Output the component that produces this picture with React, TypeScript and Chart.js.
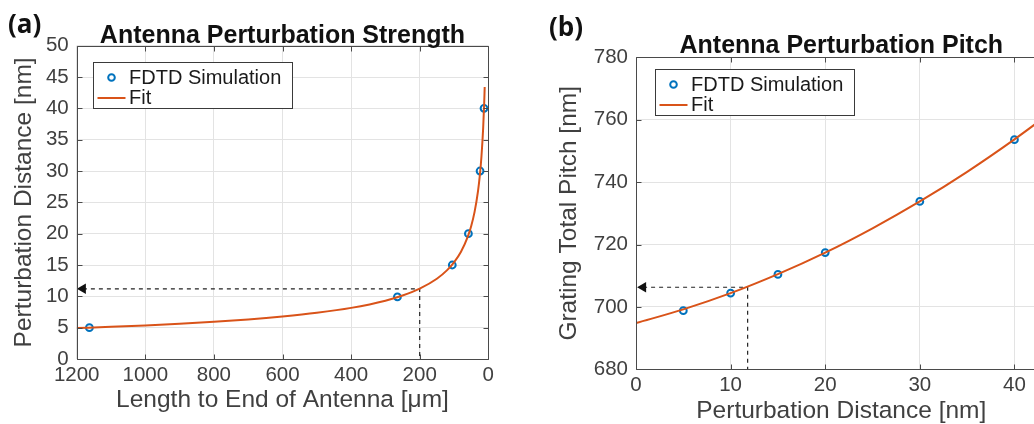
import React, { useEffect, useRef } from 'react';
import { Chart, registerables } from 'chart.js';

Chart.register(...registerables);

// ---------- Panel (a): Antenna Perturbation Strength ----------
const aSimX = [1163, 265, 105, 58, 24, 12.5];
const aSimY = [5, 9.9, 15, 20, 30, 40];
const aFitX = [1200, 1100, 1000, 900, 800, 700, 600, 500, 400, 300, 250, 200, 150, 120, 100, 80, 60, 50, 40, 30, 25, 20, 15, 12, 10.5];
const aFitY = [4.93, 5.13, 5.36, 5.62, 5.94, 6.31, 6.78, 7.37, 8.16, 9.31, 10.13, 11.22, 12.8, 14.18, 15.42, 17.08, 19.49, 21.19, 23.48, 26.8, 29.13, 32.28, 36.83, 40.81, 43.4];
const aGuideX = [1182, 200, 200];
const aGuideY = [11.2, 11.2, 0];
const aXRange = [0, 1200, 200]; // min, max, step
const aYRange = [0, 50, 5];

// ---------- Panel (b): Antenna Perturbation Pitch ----------
const bSimX = [5, 10, 15, 20, 30, 40];
const bSimY = [698.8, 704.4, 710.4, 717.4, 733.8, 753.6];
const bFitX = [0, 5, 10, 15, 20, 25, 30, 35, 40, 45];
const bFitY = [694.8, 699.2, 704.4, 710.5, 717.4, 725.2, 733.8, 743.3, 753.7, 764.9];
const bGuideX = [0.75, 11.8, 11.8];
const bGuideY = [706.3, 706.3, 680];
const bXRange = [0, 43.4, 10];
const bYRange = [680, 780, 20];

const seriesNames = ['FDTD Simulation', 'Fit'];

const BLUE = '#0072BD';
const ORANGE = '#D95319';
const AXIS = '#4a4a4a';
const GRID = '#e3e3e3';
const TEXT = '#404040';
const FONT = '"Liberation Sans", Arial, Helvetica, sans-serif';

const zip = (xs: number[], ys: number[]) => xs.map((x, i) => ({ x, y: ys[i] }));

const decorPlugin = {
  id: 'decor',
  afterDraw(chart: any, _args: any, o: any) {
    const { ctx, chartArea: a, scales } = chart;
    const xs = scales.x;
    const ys = scales.y;
    const L = Math.round(a.left) + 0.5;
    const T = Math.round(a.top) + 0.5;
    const R = Math.round(a.right) + 0.5;
    const B = Math.round(a.bottom) + 0.5;
    ctx.save();
    ctx.strokeStyle = AXIS;
    ctx.lineWidth = 1;
    ctx.beginPath();
    ctx.rect(L, T, R - L, B - T);
    const TL = 5;
    xs.ticks.forEach((t: any) => {
      const p = Math.round(xs.getPixelForValue(t.value)) + 0.5;
      ctx.moveTo(p, B);
      ctx.lineTo(p, B - TL);
      ctx.moveTo(p, T);
      ctx.lineTo(p, T + TL);
    });
    ys.ticks.forEach((t: any) => {
      const p = Math.round(ys.getPixelForValue(t.value)) + 0.5;
      ctx.moveTo(L, p);
      ctx.lineTo(L + TL, p);
      ctx.moveTo(R, p);
      ctx.lineTo(R - TL, p);
    });
    ctx.stroke();

    // title
    ctx.font = `bold 25px ${FONT}`;
    ctx.fillStyle = '#111';
    ctx.textAlign = 'center';
    ctx.textBaseline = 'alphabetic';
    ctx.fillText(o.title, (a.left + a.right) / 2, o.titleY);

    // legend
    const lx = Math.round(a.left + o.legendDx) + 0.5;
    const ly = Math.round(a.top + o.legendDy) + 0.5;
    const lw = 199;
    const lh = 46;
    ctx.fillStyle = '#fff';
    ctx.fillRect(lx, ly, lw, lh);
    ctx.strokeStyle = '#3a3a3a';
    ctx.strokeRect(lx, ly, lw, lh);
    const r1 = ly + 15;
    const r2 = ly + 35.5;
    ctx.strokeStyle = BLUE;
    ctx.lineWidth = 2;
    ctx.beginPath();
    ctx.arc(lx + 18, r1, 3.3, 0, Math.PI * 2);
    ctx.stroke();
    ctx.strokeStyle = ORANGE;
    ctx.beginPath();
    ctx.moveTo(lx + 4, r2);
    ctx.lineTo(lx + 32, r2);
    ctx.stroke();
    ctx.fillStyle = '#1a1a1a';
    ctx.font = `20px ${FONT}`;
    ctx.textAlign = 'left';
    ctx.textBaseline = 'middle';
    ctx.fillText(seriesNames[0], lx + 35.5, r1 + 0.5);
    ctx.fillText(seriesNames[1], lx + 35.5, r2 + 0.5);
    ctx.restore();
  },
};

type PanelProps = {
  left: number;
  width: number;
  simX: number[];
  simY: number[];
  fitX: number[];
  fitY: number[];
  guideX: number[];
  guideY: number[];
  xRange: number[];
  yRange: number[];
  reverse: boolean;
  padTop: number;
  padRight: number;
  yWidth: number;
  xHeight: number;
  xLabel: string;
  yLabel: string;
  xTitlePad: number;
  yTitlePad: number;
  title: string;
  titleY: number;
  legendDx: number;
  legendDy: number;
};

function Panel(p: PanelProps) {
  const ref = useRef<HTMLCanvasElement>(null);
  useEffect(() => {
    if (!ref.current) return;
    const chart = new Chart(ref.current, {
      type: 'scatter',
      data: {
        datasets: [
          {
            label: seriesNames[1],
            data: zip(p.fitX, p.fitY),
            showLine: true,
            borderColor: ORANGE,
            borderWidth: 2,
            pointRadius: 0,
            cubicInterpolationMode: 'monotone',
            order: 0,
          } as any,
          {
            label: seriesNames[0],
            data: zip(p.simX, p.simY),
            showLine: false,
            borderColor: BLUE,
            backgroundColor: 'rgba(0,0,0,0)',
            borderWidth: 2,
            pointRadius: 3.4,
            order: 1,
          },
          {
            label: 'guide',
            data: zip(p.guideX, p.guideY),
            showLine: true,
            borderColor: '#222',
            backgroundColor: '#111',
            borderWidth: 1.2,
            borderDash: [4, 4],
            pointStyle: 'triangle',
            pointRotation: -90,
            pointRadius: [6, 0, 0],
            pointBorderWidth: 0,
            pointBackgroundColor: '#111',
            order: 2,
          } as any,
        ],
      },
      options: {
        animation: false,
        responsive: false,
        events: [],
        layout: { padding: { top: p.padTop, right: p.padRight, left: 0, bottom: 0 } },
        plugins: {
          legend: { display: false },
          tooltip: { enabled: false },
          decor: { title: p.title, titleY: p.titleY, legendDx: p.legendDx, legendDy: p.legendDy },
        } as any,
        scales: {
          x: {
            type: 'linear',
            min: p.xRange[0],
            max: p.xRange[1],
            reverse: p.reverse,
            afterFit: (s: any) => {
              s.height = p.xHeight;
            },
            ticks: {
              stepSize: p.xRange[2],
              includeBounds: false,
              autoSkip: false,
              maxRotation: 0,
              padding: 4,
              color: TEXT,
              font: { family: FONT, size: 20.5 },
              callback: (v: any) => String(v),
            },
            grid: { color: GRID, drawTicks: false },
            border: { display: false },
            title: {
              display: true,
              text: p.xLabel,
              color: TEXT,
              font: { family: FONT, size: 24.5, lineHeight: 1 },
              padding: { top: 0, bottom: p.xTitlePad },
            },
          },
          y: {
            type: 'linear',
            min: p.yRange[0],
            max: p.yRange[1],
            afterFit: (s: any) => {
              s.width = p.yWidth;
            },
            ticks: {
              stepSize: p.yRange[2],
              autoSkip: false,
              padding: 8,
              color: TEXT,
              font: { family: FONT, size: 20.5 },
              callback: (v: any) => String(v),
            },
            grid: { color: GRID, drawTicks: false },
            border: { display: false },
            title: {
              display: true,
              text: p.yLabel,
              color: TEXT,
              font: { family: FONT, size: 24.5, lineHeight: 1 },
              padding: { top: p.yTitlePad, bottom: 0 },
            },
          },
        },
      },
      plugins: [decorPlugin],
    });
    return () => chart.destroy();
  }, []);
  return (
    <canvas
      ref={ref}
      width={p.width}
      height={424}
      style={{ position: 'absolute', left: p.left, top: 0, width: p.width, height: 424 }}
    />
  );
}

const tagStyle: React.CSSProperties = {
  position: 'absolute',
  fontFamily: '"Open Sans", "Noto Sans", sans-serif',
  fontWeight: 700,
  fontSize: 26,
  lineHeight: '26px',
  color: '#111',
};

export default function App() {
  return (
    <div
      style={{
        position: 'fixed',
        left: 0,
        top: 0,
        width: 1034,
        height: 424,
        overflow: 'hidden',
        background: '#fff',
      }}
    >
      <Panel
        left={0}
        width={510}
        simX={aSimX}
        simY={aSimY}
        fitX={aFitX}
        fitY={aFitY}
        guideX={aGuideX}
        guideY={aGuideY}
        xRange={aXRange}
        yRange={aYRange}
        reverse={true}
        padTop={45.7}
        padRight={21.7}
        yWidth={76.7}
        xHeight={65}
        xLabel="Length to End of Antenna [μm]"
        yLabel="Perturbation Distance [nm]"
        xTitlePad={12}
        yTitlePad={11.75}
        title="Antenna Perturbation Strength"
        titleY={43.3}
        legendDx={16}
        legendDy={16}
      />
      <Panel
        left={530}
        width={540}
        simX={bSimX}
        simY={bSimY}
        fitX={bFitX}
        fitY={bFitY}
        guideX={bGuideX}
        guideY={bGuideY}
        xRange={bXRange}
        yRange={bYRange}
        reverse={false}
        padTop={57.3}
        padRight={540 - (1046.6 - 530)}
        yWidth={106}
        xHeight={54.7}
        xLabel="Perturbation Distance [nm]"
        yLabel="Grating Total Pitch [nm]"
        xTitlePad={1}
        yTitlePad={27.3}
        title="Antenna Perturbation Pitch"
        titleY={53.3}
        legendDx={19}
        legendDy={11.7}
      />
      <div style={{ ...tagStyle, left: 8, top: 10 }}>(a)</div>
      <div style={{ ...tagStyle, left: 549, top: 13 }}>(b)</div>
    </div>
  );
}
